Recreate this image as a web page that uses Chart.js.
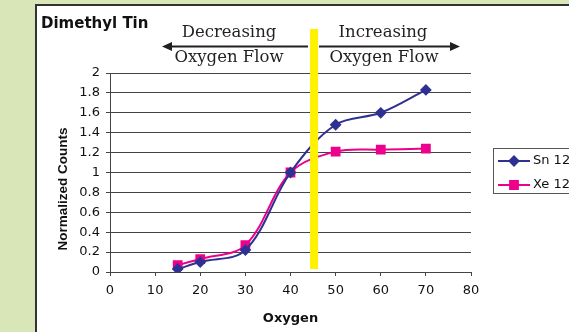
<!DOCTYPE html>
<html>
<head>
<meta charset="utf-8">
<style>
  html, body { margin: 0; padding: 0; background: #d8e6b8; }
  #chart { display: block; }
</style>
<script src="https://cdn.jsdelivr.net/npm/chart.js"></script>
</head>
<body>
<canvas id="chart" width="569" height="332"></canvas>
<script>
// oxygen setting (x) and normalized counts for each isotope
const oxygen = [15, 20, 30, 40, 50, 60, 70];
const sn = [0.03, 0.10, 0.22, 1.00, 1.48, 1.60, 1.83];
const xe = [0.07, 0.13, 0.27, 1.00, 1.21, 1.23, 1.24];
const seriesNames = ['Sn 12', 'Xe 12'];
const xTicks = [0, 10, 20, 30, 40, 50, 60, 70, 80];
const yTicks = [0, 0.2, 0.4, 0.6, 0.8, 1, 1.2, 1.4, 1.6, 1.8, 2];
const switchPoint = 45; // yellow bar
const leftLabel = ['Decreasing', 'Oxygen Flow'];
const rightLabel = ['Increasing', 'Oxygen Flow'];

const snColor = '#2e3192';
const xeColor = '#ec008c';

// frame, title, yellow bar, arrows and legend box
const extras = {
    id: 'extras',
    beforeDraw(chart) {
        const c = chart.ctx;
        c.save();
        c.fillStyle = '#d8e6b8';
        c.fillRect(0, 0, chart.width, chart.height);
        c.fillStyle = '#fff';
        c.fillRect(36, 5, chart.width, chart.height);
        c.strokeStyle = '#333';
        c.lineWidth = 2;
        c.beginPath();
        c.moveTo(36, chart.height);
        c.lineTo(36, 5);
        c.lineTo(chart.width, 5);
        c.stroke();

        c.fillStyle = '#111';
        c.font = 'bold 15px "DejaVu Sans"';
        c.textAlign = 'left';
        c.textBaseline = 'alphabetic';
        c.fillText('Dimethyl Tin', 41, 28);

        // y title
        c.translate(63, 189);
        c.rotate(-Math.PI / 2);
        c.font = 'bold 13.5px "Liberation Sans"';
        c.textAlign = 'center';
        c.textBaseline = 'middle';
        c.fillText('Normalized Counts', 0, 0);
        c.restore();
    },
    afterDatasetsDraw(chart) {
        const c = chart.ctx;
        const x = chart.scales.x.getPixelForValue(switchPoint);
        c.save();
        c.fillStyle = '#fff200';
        c.fillRect(x - 3, 29, 8, 240);

        // arrows
        c.strokeStyle = '#231f20';
        c.fillStyle = '#231f20';
        c.lineWidth = 2;
        const ay = 46.5;
        c.beginPath();
        c.moveTo(170, ay); c.lineTo(308, ay);
        c.moveTo(319, ay); c.lineTo(452, ay);
        c.stroke();
        c.beginPath();
        c.moveTo(162, ay); c.lineTo(172, ay - 4.5); c.lineTo(172, ay + 4.5); c.closePath();
        c.moveTo(460, ay); c.lineTo(450, ay - 4.5); c.lineTo(450, ay + 4.5); c.closePath();
        c.fill();

        c.font = '16.5px "DejaVu Serif"';
        c.textAlign = 'center';
        c.textBaseline = 'alphabetic';
        c.fillText(leftLabel[0], 229, 37);
        c.fillText(leftLabel[1], 229, 62);
        c.fillText(rightLabel[0], 383, 37);
        c.fillText(rightLabel[1], 384, 62);

        // legend
        c.strokeStyle = '#555';
        c.lineWidth = 1;
        c.strokeRect(493.5, 148.5, 120, 45);
        const items = [[seriesNames[0], snColor, 'rectRot', 4.5, 161], [seriesNames[1], xeColor, 'rect', 5.5, 185]];
        items.forEach(([name, col, style, r, y]) => {
            c.strokeStyle = col;
            c.fillStyle = col;
            c.lineWidth = 2;
            c.beginPath();
            c.moveTo(498, y); c.lineTo(530, y);
            c.stroke();
            Chart.helpers.drawPoint(c, { pointStyle: style, radius: r, borderWidth: 1 }, 514, y);
            c.fillStyle = '#111';
            c.font = '13px "DejaVu Sans"';
            c.textAlign = 'left';
            c.textBaseline = 'middle';
            c.fillText(name, 533, y);
        });
        c.restore();
    }
};

new Chart(document.getElementById('chart'), {
    type: 'line',
    data: {
        datasets: [
            {
                label: seriesNames[0],
                data: oxygen.map((o, i) => ({ x: o, y: sn[i] })),
                borderColor: snColor,
                backgroundColor: snColor,
                borderWidth: 2,
                pointStyle: 'rectRot',
                pointRadius: 4.5,
                tension: 0.35
            },
            {
                label: seriesNames[1],
                data: oxygen.map((o, i) => ({ x: o, y: xe[i] })),
                borderColor: xeColor,
                backgroundColor: xeColor,
                borderWidth: 2,
                pointStyle: 'rect',
                pointRadius: 5.5,
                tension: 0.35
            }
        ]
    },
    options: {
        responsive: false,
        animation: false,
        devicePixelRatio: 1,
        layout: { padding: { top: 73, right: 98, left: 0, bottom: 0 } },
        plugins: {
            legend: { display: false },
            tooltip: { enabled: false }
        },
        scales: {
            x: {
                type: 'linear',
                min: 0,
                max: 80,
                afterFit: s => { s.height = 60; },
                afterBuildTicks: s => { s.ticks = xTicks.map(v => ({ value: v })); },
                grid: { drawOnChartArea: false, tickLength: 4, color: '#444' },
                border: { color: '#444', width: 1 },
                ticks: { color: '#111', font: { family: 'DejaVu Sans', size: 13 }, padding: 7, maxRotation: 0 },
                title: {
                    display: true,
                    text: 'Oxygen',
                    color: '#111',
                    font: { family: 'DejaVu Sans', size: 13, weight: 'bold' },
                    padding: { top: 0, bottom: 6 }
                }
            },
            y: {
                min: 0,
                max: 2,
                afterFit: s => { s.width = 110; },
                afterBuildTicks: s => { s.ticks = yTicks.map(v => ({ value: v })); },
                grid: { color: '#444', tickLength: 4 },
                border: { color: '#444', width: 1 },
                ticks: {
                    color: '#111',
                    font: { family: 'DejaVu Sans', size: 13 },
                    padding: 6,
                    callback: v => String(Number(v.toFixed(1)))
                }
            }
        }
    },
    plugins: [extras]
});
</script>
</body>
</html>
